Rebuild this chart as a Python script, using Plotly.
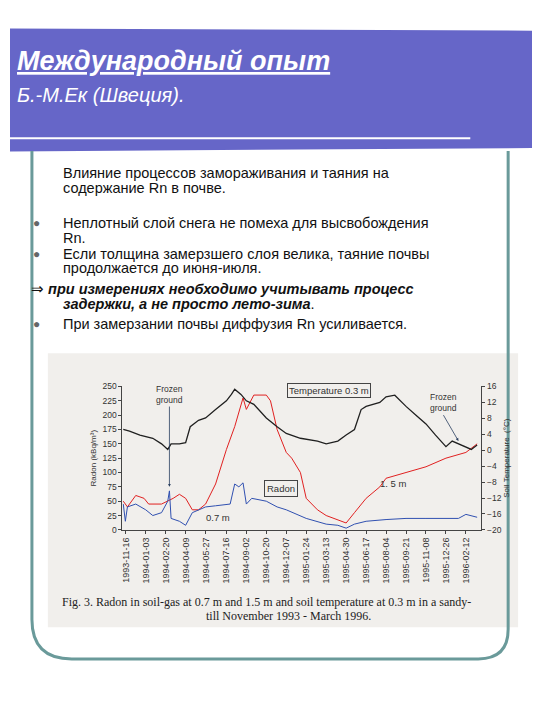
import pandas as pd
import plotly.graph_objects as go

# temperature at 0.3 m (deg C)
temp_dates = ['1993-11-10', '1993-11-25', '1993-12-20', '1994-01-05', '1994-01-20', '1994-02-10',
              '1994-02-25', '1994-03-05', '1994-03-25', '1994-04-09', '1994-04-20', '1994-05-10',
              '1994-05-27', '1994-06-20', '1994-07-16', '1994-07-28', '1994-08-05', '1994-08-20',
              '1994-09-02', '1994-09-20', '1994-10-01', '1994-10-20', '1994-11-15', '1994-12-07',
              '1995-01-10', '1995-01-24', '1995-02-20', '1995-03-13', '1995-04-10', '1995-04-30',
              '1995-05-20', '1995-06-05', '1995-06-17', '1995-07-20', '1995-08-04', '1995-08-25',
              '1995-09-21', '1995-10-15', '1995-11-08', '1995-12-01', '1995-12-26', '1996-01-10',
              '1996-02-12', '1996-02-25', '1996-03-10']
temp_vals = [5.2, 4.8, 3.8, 3.4, 3.0, 1.6, 0.2, 1.6, 1.6, 1.9, 5.9, 7.5, 8.1, 10.2, 12.4, 14.0,
             15.3, 14.0, 12.4, 11.5, 10.2, 8.1, 5.9, 4.2, 3.0, 2.8, 2.3, 1.6, 2.3, 3.8, 5.2, 10.2,
             11.0, 12.0, 13.4, 13.8, 11.0, 8.8, 6.6, 3.8, 0.9, 2.3, 0.9, 0.2, 1.3]

# radon at 1.5 m (kBq/m3)
r15_dates = ['1993-11-10', '1993-11-20', '1993-12-10', '1993-12-30', '1994-01-10', '1994-02-10',
             '1994-03-10', '1994-03-25', '1994-04-09', '1994-04-25', '1994-05-10', '1994-05-27',
             '1994-06-20', '1994-07-16', '1994-08-05', '1994-08-25', '1994-09-02', '1994-09-20',
             '1994-10-20', '1994-10-30', '1994-11-15', '1994-12-07', '1994-12-20', '1995-01-10',
             '1995-01-24', '1995-02-20', '1995-03-13', '1995-04-10', '1995-04-30', '1995-05-20',
             '1995-06-17', '1995-07-20', '1995-08-04', '1995-09-21', '1995-11-08', '1995-12-26',
             '1996-02-12', '1996-03-10']
r15_vals = [50, 40, 60, 55, 45, 45, 55, 62, 55, 35, 35, 45, 80, 140, 180, 230, 210, 235, 235, 225,
            175, 135, 125, 100, 55, 35, 25, 18, 12, 30, 55, 75, 90, 100, 110, 125, 135, 150]

# radon at 0.7 m (kBq/m3)
r07_dates = ['1993-11-10', '1993-11-15', '1993-11-20', '1993-12-10', '1994-01-03', '1994-01-20',
             '1994-02-10', '1994-02-25', '1994-03-01', '1994-03-05', '1994-03-25', '1994-04-09',
             '1994-04-25', '1994-05-27', '1994-06-20', '1994-07-16', '1994-07-25', '1994-08-05',
             '1994-08-15', '1994-08-25', '1994-09-02', '1994-09-15', '1994-10-20', '1994-11-15',
             '1994-12-07', '1995-01-24', '1995-03-13', '1995-04-10', '1995-04-30', '1995-05-20',
             '1995-06-17', '1995-08-04', '1995-09-21', '1995-11-08', '1995-12-26', '1996-01-25',
             '1996-02-12', '1996-03-10']
r07_vals = [45, 15, 40, 45, 35, 25, 30, 50, 68, 20, 15, 8, 30, 40, 42, 45, 45, 80, 75, 82, 45, 55,
            50, 40, 35, 20, 10, 8, 3, 10, 15, 18, 20, 20, 20, 20, 27, 22]

tick_dates = ['1993-11-16', '1994-01-03', '1994-02-20', '1994-04-09', '1994-05-27', '1994-07-16',
              '1994-09-02', '1994-10-20', '1994-12-07', '1995-01-24', '1995-03-13', '1995-04-30',
              '1995-06-17', '1995-08-04', '1995-09-21', '1995-11-08', '1995-12-26', '1996-02-12']

BLUE = '#6666c8'
TEAL = '#6a9a9a'

fig = go.Figure()
fig.add_trace(go.Scatter(x=r15_dates, y=r15_vals, mode='lines', line=dict(color='#e02020', width=1)))
fig.add_trace(go.Scatter(x=r07_dates, y=r07_vals, mode='lines', line=dict(color='#3050b0', width=1)))
fig.add_trace(go.Scatter(x=temp_dates, y=temp_vals, mode='lines', yaxis='y2',
                         line=dict(color='#202020', width=1.3)))

fig.update_layout(
    width=540, height=720, margin=dict(l=0, r=0, t=0, b=0),
    paper_bgcolor='white', plot_bgcolor='rgba(0,0,0,0)', showlegend=False,
    font=dict(family='Liberation Sans', color='#333'),
    xaxis=dict(domain=[0.209, 0.876], range=['1993-11-08', '1996-03-20'], tickvals=tick_dates,
               ticktext=tick_dates, tickangle=-90, tickfont=dict(size=9), showgrid=False,
               showline=True, linecolor='#444', ticks='outside', ticklen=3),
    yaxis=dict(domain=[0.272, 0.474], range=[0, 250], dtick=25, tickfont=dict(size=8.5),
               showgrid=False, zeroline=False, showline=True, linecolor='#444', ticks='outside',
               ticklen=3, title=dict(text='Radon (kBq/m³)', font=dict(size=8), standoff=4)),
    yaxis2=dict(overlaying='y', side='right', range=[-20, 16], dtick=4, tickfont=dict(size=8.5),
                showgrid=False, zeroline=False, showline=True, linecolor='#444', ticks='outside',
                ticklen=3, title=dict(text='Soil Temperature  (°C)', font=dict(size=8), standoff=2)),
)

shapes = [
    dict(type='rect', xref='paper', yref='paper', x0=38/540, x1=510/540, y0=1-623/720, y1=1-345/720,
         fillcolor='#f1efec', line_width=0, layer='below'),
    dict(type='path', xref='paper', yref='paper', path='M 0,0.978 L 1,0.975 L 1,0.81 L 0,0.805 Z',
         fillcolor=BLUE, line_width=0),
    dict(type='line', xref='paper', yref='paper', x0=0, x1=462/540, y0=1-127/720, y1=1-127/720,
         line=dict(color='white', width=2)),
    dict(type='path', xref='paper', yref='paper',
         path=f'M {22/540},{1-140/720} L {22/540},{1-615/720} Q {22/540},{1-655/720} {62/540},{1-655/720} '
              f'L {470/540},{1-655/720} Q {500/540},{1-655/720} {500/540},{1-625/720} L {500/540},{1-140/720}',
         line=dict(color=TEAL, width=3)),
]
fig.update_layout(shapes=shapes)

# slide texts; y is the wanted centre in pixels, offsets compensate annotation padding
def txt(x, y, s, size=14.5, color='#111', family='Liberation Sans'):
    fig.add_annotation(xref='paper', yref='paper', x=(x - 4)/540, y=1-(y - 9)/720, text=s,
                       showarrow=False, xanchor='left', yanchor='middle', borderpad=0,
                       font=dict(size=size, color=color, family=family))

txt(10, 58, '<b><i><u>Международный опыт</u></i></b>', 27, 'white')
txt(10, 92, '<i>Б.-М.Ек (Швеция).</i>', 20, 'white')
txt(56, 171, 'Влияние процессов замораживания и таяния на')
txt(56, 186, 'содержание Rn в почве.')
for y in (222, 253, 324):
    txt(26, y, '●', 12, '#666')
txt(56, 222, 'Неплотный слой снега не помеха для высвобождения')
txt(56, 237, 'Rn.')
txt(56, 253, 'Если толщина замерзшего слоя велика, таяние почвы')
txt(56, 268, 'продолжается до июня-июля.')
txt(24, 289, '⇒ <b><i>при измерениях необходимо учитывать процесс</i></b>')
txt(56, 304, '<b><i>задержки, а не просто лето-зима</i></b>.')
txt(56, 324, 'При замерзании почвы диффузия Rn усиливается.')
fig.add_annotation(xref='paper', yref='paper', x=50/540, y=1-606/720, xanchor='left', showarrow=False,
                   text='Fig. 3. Radon in soil-gas at 0.7 m and 1.5 m and soil temperature at 0.3 m in a sandy-',
                   font=dict(family='Liberation Serif', size=12, color='#222'))
fig.add_annotation(xref='paper', yref='paper', x=195/540, y=1-621/720, xanchor='left', showarrow=False,
                   text='till November 1993 - March 1996.',
                   font=dict(family='Liberation Serif', size=12, color='#222'))

# in-chart labels
fig.add_annotation(x='1995-03-20', y=243, text='Temperature 0.3 m', showarrow=False, bordercolor='#444',
                   borderwidth=1, borderpad=1, font=dict(size=9.5))
fig.add_annotation(x='1994-11-25', y=72, text='Radon', showarrow=False, bordercolor='#444',
                   borderwidth=1, borderpad=2, font=dict(size=9.5))
fig.add_annotation(x='1994-06-25', y=22, text='0.7 m', showarrow=False, font=dict(size=9.5))
fig.add_annotation(x='1995-08-20', y=80, text='1. 5 m', showarrow=False, font=dict(size=9.5))
fig.add_annotation(x='1994-03-01', y=75, ax='1994-03-01', ay=215, axref='x', ayref='y',
                   text='Frozen<br>ground', showarrow=True, arrowhead=2, arrowsize=0.7, arrowwidth=0.8,
                   font=dict(size=8.5), yanchor='bottom')
fig.add_annotation(x='1996-01-25', y=155, ax='1995-12-20', ay=200, axref='x', ayref='y',
                   text='Frozen<br>ground', showarrow=True, arrowhead=2, arrowsize=0.7, arrowwidth=0.8,
                   font=dict(size=8.5), yanchor='bottom')

fig.write_html("out.html")
